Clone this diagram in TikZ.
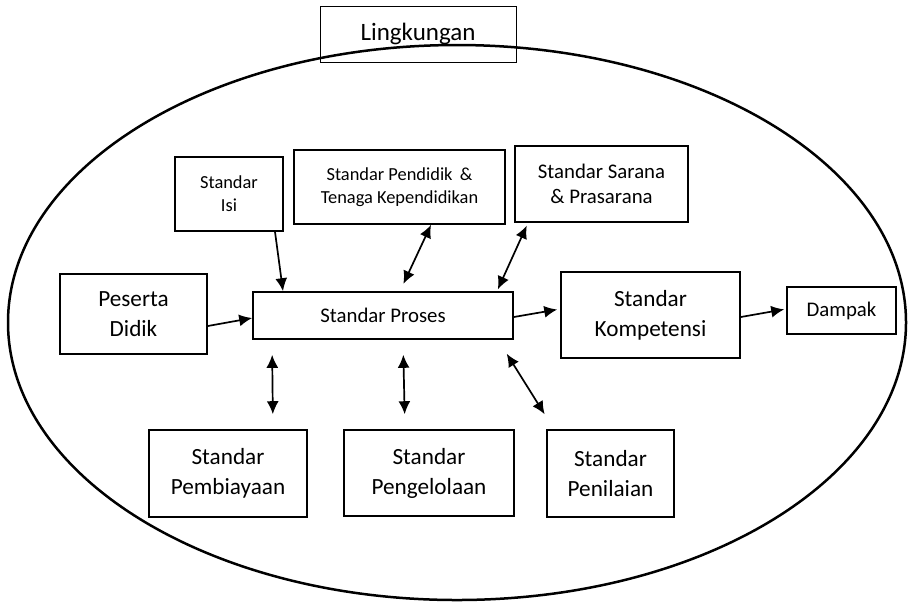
\documentclass[tikz,border=0pt]{standalone}
\usepackage{fontspec}
\setmainfont{Carlito}
\usetikzlibrary{arrows.meta}
\tikzset{
  box/.style={draw, line width=0.8pt, align=center, inner sep=0pt},
  smalltxt/.style={box, font=\fontsize{9.2}{11.5}\selectfont},
  midtxt/.style={box, font=\fontsize{10.4}{12.5}\selectfont},
  bigtxt/.style={box, font=\fontsize{11.6}{15}\selectfont},
  arr/.style={line width=0.85pt, -{Latex[length=6.5pt,width=6pt]}},
  dbl/.style={line width=0.85pt, {Latex[length=6.5pt,width=6pt]}-{Latex[length=6.5pt,width=6pt]}}
}
\begin{document}
\begin{tikzpicture}[x=0.5pt,y=-0.5pt]
\useasboundingbox (0,0) rectangle (909,602);
\node[box, line width=0.5pt, minimum width=98pt, minimum height=28pt, font=\fontsize{12.5}{15}\selectfont] (lingkungan) at (418,34) {Lingkungan};
\draw[line width=1.25pt] (457,322.5) ellipse (449 and 277.5);
\node[smalltxt, minimum width=54pt, minimum height=37pt] (isi) at (229,194) {Standar\\Isi};
\node[smalltxt, minimum width=105.5pt, minimum height=37pt] (pendidik) at (399.5,187) {Standar Pendidik \,\&\\Tenaga Kependidikan};
\node[midtxt, minimum width=86.5pt, minimum height=38pt] (sarana) at (601.5,184) {Standar Sarana\\\& Prasarana};
\node[bigtxt, minimum width=73.5pt, minimum height=40pt] (peserta) at (133.5,314) {Peserta\\Didik};
\node[midtxt, minimum width=130pt, minimum height=23.5pt] (proses) at (383,315.5) {Standar Proses};
\node[bigtxt, minimum width=89.5pt, minimum height=43pt] (kompetensi) at (650.5,315) {Standar\\Kompetensi};
\node[midtxt, minimum width=54.5pt, minimum height=23.5pt] (dampak) at (841.5,310.5) {Dampak};
\node[bigtxt, minimum width=79pt, minimum height=43.5pt] (pembiayaan) at (228,473.5) {Standar\\Pembiayaan};
\node[bigtxt, minimum width=85pt, minimum height=43pt] (pengelolaan) at (429,473) {Standar\\Pengelolaan};
\node[bigtxt, minimum width=63.5pt, minimum height=43.5pt] (penilaian) at (610.5,473.5) {Standar\\Penilaian};
\draw[arr] (isi.south -| 275,0) -- (proses.north -| 283,0);
\draw[dbl, shorten >=4pt] (pendidik.south -| 431,0) -- (proses.north -| 400,0);
\draw[dbl, shorten <=1.5pt, shorten >=1pt] (sarana.south -| 528,0) -- (proses.north -| 497,0);
\draw[arr] (peserta.east |- 0,326) -- (proses.west |- 0,318);
\draw[arr, shorten >=1.5pt] (proses.east |- 0,317) -- (kompetensi.west |- 0,309);
\draw[arr, shorten >=1pt] (kompetensi.east |- 0,317) -- (dampak.west |- 0,309);
\draw[dbl, shorten <=7.5pt, shorten >=7.5pt] (proses.south -| 272,0) -- (pembiayaan.north -| 273,0);
\draw[dbl, shorten <=7.5pt, shorten >=7.5pt] (proses.south -| 403,0) -- (pengelolaan.north -| 405,0);
\draw[dbl, shorten <=8.2pt, shorten >=8.8pt] (proses.south -| 498,0) -- (penilaian.north -| 554,0);
\end{tikzpicture}
\end{document}
